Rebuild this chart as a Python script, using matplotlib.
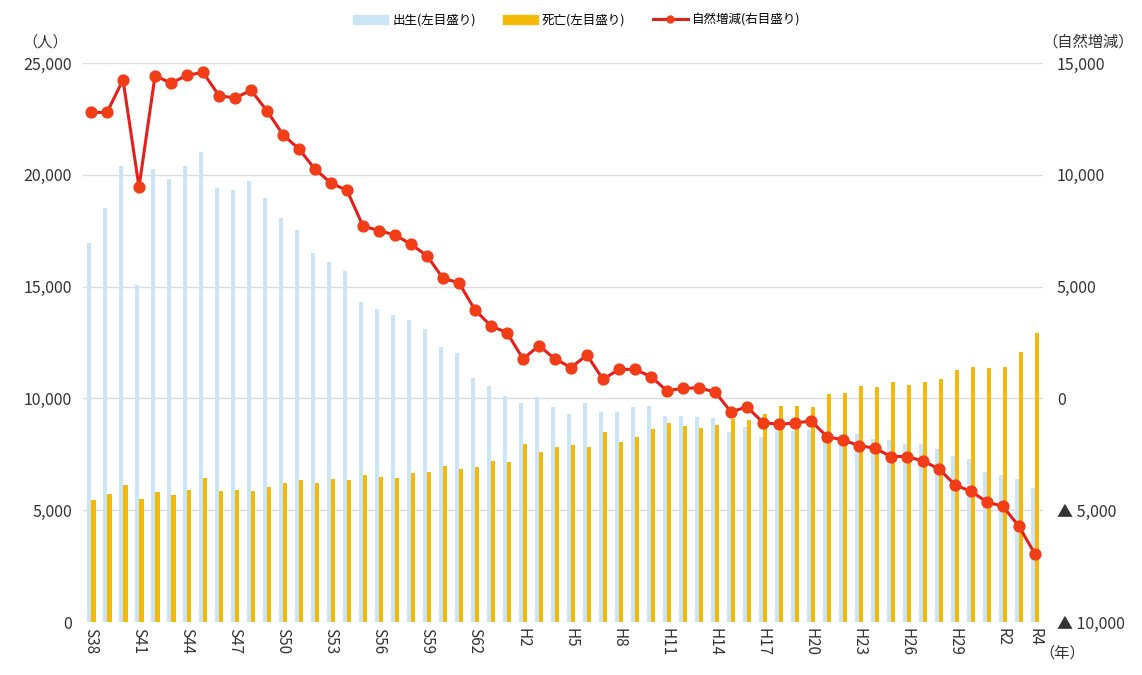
import numpy as np
import matplotlib
matplotlib.use('Agg')
import matplotlib.pyplot as plt
from matplotlib.patches import Patch
from matplotlib.lines import Line2D

# 年次（S38〜R4）
years = (['S%d' % y for y in range(38, 64)] + ['H1'] +
         ['H%d' % y for y in range(2, 31)] + ['R1', 'R2', 'R3', 'R4'])

# 出生数（左目盛り）
births = [16950, 18510, 20380, 15050, 20270, 19790, 20380, 21020, 19410, 19330,
          19700, 18960, 18070, 17540, 16500, 16090, 15690, 14330, 14000, 13730,
          13520, 13100, 12320, 12050, 10900, 10540, 10090, 9790, 10050, 9630,
          9300, 9790, 9380, 9400, 9600, 9650, 9220, 9220, 9150, 9120,
          8510, 8710, 8260, 8520, 8560, 8590, 8450, 8330, 8420, 8200,
          8130, 7980, 7940, 7730, 7430, 7270, 6700, 6570, 6380, 6010]

# 死亡数（左目盛り）
deaths = [5450, 5720, 6120, 5520, 5820, 5670, 5900, 6430, 5840, 5910,
          5880, 6050, 6210, 6360, 6230, 6400, 6350, 6570, 6470, 6420,
          6650, 6700, 6990, 6830, 6910, 7210, 7140, 7960, 7610, 7840,
          7910, 7840, 8510, 8060, 8280, 8630, 8900, 8780, 8660, 8820,
          9080, 9050, 9300, 9670, 9670, 9600, 10200, 10230, 10540, 10500,
          10750, 10600, 10720, 10870, 11290, 11390, 11350, 11390, 12060, 12910]

# 自然増減（右目盛り）
natural = [12790, 12790, 14250, 9450, 14430, 14100, 14450, 14580, 13540, 13430,
           13780, 12860, 11790, 11150, 10250, 9630, 9300, 7710, 7500, 7310,
           6890, 6380, 5370, 5170, 3950, 3240, 2940, 1770, 2350, 1770,
           1380, 1940, 850, 1300, 1300, 970, 340, 450, 470, 290,
           -600, -380, -1080, -1160, -1100, -1010, -1710, -1860, -2110, -2230,
           -2600, -2600, -2800, -3150, -3870, -4160, -4630, -4830, -5720, -6960]

left_ticks = [0, 5000, 10000, 15000, 20000, 25000]
right_ticks = [-10000, -5000, 0, 5000, 10000, 15000]
right_labels = ['▲ 10,000', '▲ 5,000', '0', '5,000', '10,000', '15,000']

plt.rcParams['font.family'] = ['Noto Sans CJK JP', 'DejaVu Sans']

c_birth = '#cbe5f6'
c_death = '#f5b90a'
c_line = '#e3201b'
c_marker = '#f23d16'
c_text = '#333333'

fig = plt.figure(figsize=(11.42, 6.75), dpi=100)
ax = fig.add_axes([0.0727, 0.0785, 0.8406, 0.8282])
ax2 = ax.twinx()

x = np.arange(len(years))
ax.bar(x - 0.14, births, width=0.28, color=c_birth, zorder=2)
ax.bar(x + 0.14, deaths, width=0.28, color=c_death, zorder=2)

ax.set_xlim(-0.5, len(years) - 0.5)
ax.set_ylim(0, 25000)
ax.set_yticks(left_ticks)
ax.set_yticklabels([f'{v:,}' for v in left_ticks], fontsize=11.5, color=c_text)
ax.grid(axis='y', color='#dcdcdc', linewidth=1, zorder=0)
ax.set_axisbelow(True)

# 3年ごと＋最終年
tick_idx = list(range(0, 58, 3)) + [59]
ax.set_xticks(tick_idx)
ax.set_xticklabels([years[i] for i in tick_idx], rotation=-90, fontsize=11, color=c_text)

ax2.plot(x, natural, color=c_line, linewidth=2.2, marker='o', markersize=7.8,
         markerfacecolor=c_marker, markeredgecolor=c_marker, zorder=5)
ax2.set_ylim(-10000, 15000)
ax2.set_yticks(right_ticks)
ax2.set_yticklabels(right_labels, fontsize=11.5, color=c_text)

for a in (ax, ax2):
    for s in a.spines.values():
        s.set_visible(False)
    a.tick_params(length=0)
ax.tick_params(axis='y', pad=8)
ax2.tick_params(axis='y', pad=10)
ax.tick_params(axis='x', pad=4)

fig.text(0.04, 0.925, '（人）', fontsize=11, color=c_text, ha='center', va='bottom')
fig.text(0.953, 0.925, '（自然増減）', fontsize=11, color=c_text, ha='center', va='bottom')
fig.text(0.93, 0.02, '（年）', fontsize=11, color=c_text, ha='center', va='bottom')

handles = [Patch(color=c_birth), Patch(color=c_death),
           Line2D([], [], color=c_line, linewidth=2.2, marker='o', markersize=5,
                  markerfacecolor=c_marker, markeredgecolor=c_marker)]
labels = ['出生(左目盛り)', '死亡(左目盛り)', '自然増減(右目盛り)']
fig.legend(handles, labels, loc='center', bbox_to_anchor=(0.505, 0.97), ncol=3,
           frameon=False, fontsize=9, handlelength=2.8, columnspacing=2.2,
           handletextpad=0.3)

fig.savefig('out.png', dpi=100)
